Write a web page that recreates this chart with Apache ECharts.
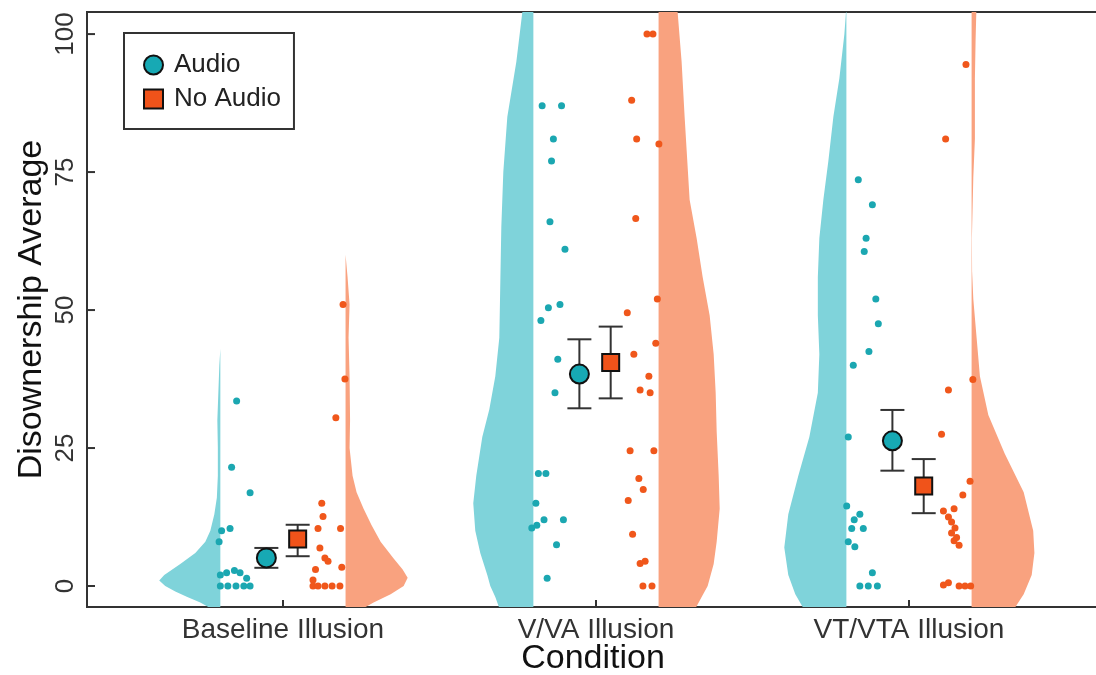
<!DOCTYPE html>
<html>
<head>
<meta charset="utf-8">
<script src="https://cdn.jsdelivr.net/npm/echarts@6/dist/echarts.min.js"></script>
<style>
html,body{margin:0;padding:0;background:#fff;}
#chart{width:1096px;height:675px;}
</style>
</head>
<body>
<div id="chart"></div>
<script>
// ---------- DATA ----------
const categories = ['Baseline Illusion', 'V/VA Illusion', 'VT/VTA Illusion'];
const yTicks = [0, 25, 50, 75, 100];

// means and error bar limits
const audioMean = [5.1, 38.4, 26.3];
const audioLow = [3.3, 32.2, 20.9];
const audioHigh = [6.9, 44.7, 31.9];
const noAudioMean = [8.5, 40.5, 18.1];
const noAudioLow = [5.4, 34.0, 13.2];
const noAudioHigh = [11.1, 47.0, 23.0];

// raw participant values per condition, with their horizontal jitter
const audioValues = [
  [33.5, 21.5, 16.9, 10.4, 10.0, 8.0, 2.0, 2.4, 2.8, 2.4, 1.4, 0, 0, 0, 0, 0],
  [87, 87, 81, 77, 66, 61, 50.4, 51, 48.1, 41.1, 35, 20.4, 20.4, 15, 12, 10.5, 11, 12, 7.5, 1.4],
  [73.6, 69.1, 63.0, 60.6, 52, 47.5, 42.5, 40, 27, 14.5, 13, 12, 10.4, 10.4, 8, 7.1, 2.4, 0, 0, 0]
];
const audioJitter = [
  [-0.148, -0.164, -0.105, -0.169, -0.196, -0.204, -0.200, -0.180, -0.155, -0.137, -0.116, -0.200, -0.176, -0.150, -0.125, -0.105],
  [-0.172, -0.110, -0.136, -0.142, -0.147, -0.099, -0.152, -0.115, -0.176, -0.122, -0.131, -0.184, -0.160, -0.192, -0.166, -0.205, -0.189, -0.104, -0.126, -0.156],
  [-0.162, -0.117, -0.137, -0.143, -0.106, -0.098, -0.128, -0.178, -0.194, -0.199, -0.157, -0.175, -0.146, -0.183, -0.194, -0.173, -0.117, -0.157, -0.130, -0.101]
];
const noAudioValues = [
  [51, 37.5, 30.5, 15.0, 12.6, 10.4, 10.4, 6.9, 5.1, 4.5, 3.4, 3.0, 1.1, 0, 0, 0, 0, 0],
  [100, 100, 88, 81, 80.1, 66.6, 52, 49.5, 44, 42, 38, 35.5, 35, 24.5, 24.5, 19.5, 17.5, 15.5, 9.4, 4.1, 4.5, 0, 0],
  [94.5, 81, 37.4, 35.5, 27.5, 19.0, 16.5, 13.6, 14.0, 12.5, 11.6, 10.5, 9.6, 8.8, 8.2, 7.4, 0.2, 0.6, 0, 0, 0]
];
const noAudioJitter = [
  [0.192, 0.198, 0.169, 0.124, 0.128, 0.112, 0.184, 0.118, 0.134, 0.144, 0.188, 0.104, 0.096, 0.096, 0.112, 0.134, 0.157, 0.182],
  [0.163, 0.182, 0.114, 0.130, 0.201, 0.127, 0.196, 0.100, 0.191, 0.121, 0.169, 0.141, 0.173, 0.109, 0.185, 0.137, 0.151, 0.103, 0.117, 0.141, 0.157, 0.150, 0.179],
  [0.182, 0.117, 0.204, 0.126, 0.104, 0.195, 0.172, 0.110, 0.144, 0.126, 0.136, 0.147, 0.136, 0.152, 0.144, 0.160, 0.110, 0.126, 0.160, 0.179, 0.197]
];

// half-violin density profiles: [value, density]
const audioDensity = [
  [[43,0],[40,1],[35,2],[30,3],[25,2.5],[20,2.5],[16,3.5],[13,6],[10,10],[8,15],[6,25],[4,40],[2,56],[1,61],[0,55],[-1,45],[-2,33],[-3,20],[-4,10]],
  [[110,3],[104,11],[95,17],[85,26],[75,30],[65,32],[55,33],[45,34],[38,38],[32,44],[27,51],[20,57],[15,60],[10,58],[6,53],[2,46],[0,43],[-2,38],[-4,34]],
  [[105,0],[100,2],[92,7],[85,13],[77,18],[70,23],[63,27],[56,28.5],[49,28.5],[42,27],[35,28.5],[27,37],[20,48],[13,58],[7,62],[2,58],[-1.5,51],[-4,43]]
];
const noAudioDensity = [
  [[60,0],[56,2],[51,4],[45,3],[38,4],[30,4.5],[25,4],[20,7],[17,11],[14,18],[11,26],[8,35],[5,48],[3,57],[1.5,62],[0,58],[-1.5,45],[-3,28],[-4,18]],
  [[110,17],[104,19],[95,23],[85,26],[70,31],[63,38],[56,44],[49,51],[42,55],[35,57],[28,58],[20,60],[14,61],[8,58],[4,55],[0,49],[-2,43],[-4,37]],
  [[106,5],[99,4],[92,3.3],[81,3.3],[74,1.7],[63,0.3],[57,0.5],[52,1.7],[45,5],[38,8.3],[31,16.7],[24,33],[17,52],[10,61.5],[6,62.7],[2,60],[-1.5,52],[-4,43]]
];

// ---------- LAYOUT / STYLE ----------
const X_MIN = 0.374, X_MAX = 3.607;
const FLAT = 0.2;            // distance of violin flat edge from category centre
const DENS_SCALE = 0.0032;   // density -> x units
const AUDIO_OFF = -0.053, NOAUDIO_OFF = 0.047;
const C_AUDIO_V = '#7fd3da', C_AUDIO_P = '#1ba7b1', C_AUDIO_M = '#17a9b4';
const C_NO_V = '#f9a27f', C_NO_P = '#f0571b', C_NO_M = '#f0531a';
const FONT = '"Liberation Sans", Arial, sans-serif';

function violin(profiles, side, color, name) {
  return {
    type: 'custom', name: name, clip: true, silent: true, z: 1,
    data: categories.map((c, i) => [i + 1, 0]),
    encode: { x: 0, y: 1 },
    renderItem: function (params, api) {
      const cx = api.value(0);
      const prof = profiles[params.dataIndex];
      const pts = [api.coord([cx + side * FLAT, prof[0][0]])];
      prof.forEach(function (p) { pts.push(api.coord([cx + side * (FLAT + p[1] * DENS_SCALE), p[0]])); });
      pts.push(api.coord([cx + side * FLAT, prof[prof.length - 1][0]]));
      return { type: 'polygon', shape: { points: pts }, style: { fill: color } };
    }
  };
}

function points(values, jitter, color, name) {
  const data = [];
  values.forEach(function (arr, i) {
    arr.forEach(function (v, j) { data.push([i + 1 + jitter[i][j], v]); });
  });
  return { type: 'scatter', name: name, data: data, symbolSize: 7, z: 3, silent: true,
    itemStyle: { color: color, opacity: 1 } };
}

function errorBars(mean, lo, hi, off, name) {
  return {
    type: 'custom', name: name, z: 4, silent: true,
    data: mean.map((m, i) => [i + 1 + off, lo[i], hi[i]]),
    encode: { x: 0, y: [1, 2] },
    renderItem: function (params, api) {
      const a = api.coord([api.value(0), api.value(1)]);
      const b = api.coord([api.value(0), api.value(2)]);
      const w = 12;
      const st = { stroke: '#333', lineWidth: 2 };
      return { type: 'group', children: [
        { type: 'line', shape: { x1: a[0], y1: a[1], x2: b[0], y2: b[1] }, style: st },
        { type: 'line', shape: { x1: a[0] - w, y1: a[1], x2: a[0] + w, y2: a[1] }, style: st },
        { type: 'line', shape: { x1: b[0] - w, y1: b[1], x2: b[0] + w, y2: b[1] }, style: st }
      ]};
    }
  };
}

// small inward tick marks on the y axis, placed through the axis scale
const yTickSeries = {
  type: 'custom', name: 'yTicks', z: 6, silent: true,
  data: yTicks.map(v => [X_MIN, v]),
  encode: { x: 0, y: 1 },
  renderItem: function (params, api) {
    const p = api.coord([api.value(0), api.value(1)]);
    return { type: 'line', shape: { x1: p[0], y1: p[1], x2: p[0] + 8, y2: p[1] }, style: { stroke: '#333', lineWidth: 2 } };
  }
};

const chart = echarts.init(document.getElementById('chart'), null, { renderer: 'canvas' });
chart.setOption({
  animation: false,
  backgroundColor: '#fff',
  textStyle: { fontFamily: FONT },
  grid: { left: 87, top: 12, width: 1012, height: 595, show: true, borderColor: '#333', borderWidth: 2,
    backgroundColor: 'transparent', outerBoundsMode: 'none', containLabel: false },
  legend: {
    orient: 'vertical', left: 124, top: 33,
    padding: [19, 13, 17, 19], itemGap: 8,
    borderColor: '#333', borderWidth: 2,
    itemWidth: 19, itemHeight: 19,
    textStyle: { fontSize: 26, color: '#222', fontFamily: FONT, padding: [0, 0, 0, 6] },
    data: [{ name: 'Audio', icon: 'circle' }, { name: 'No Audio', icon: 'rect' }]
  },
  xAxis: {
    type: 'value', min: X_MIN, max: X_MAX,
    name: 'Condition', nameLocation: 'middle', nameGap: 35, nameMoveOverlap: false,
    nameTextStyle: { fontSize: 34, color: '#111', fontFamily: FONT },
    axisLine: { show: false, onZero: false },
    splitLine: { show: false },
    axisTick: { show: true, inside: true, length: 7, customValues: [1, 2, 3], lineStyle: { color: '#333', width: 2 } },
    axisLabel: { customValues: [1, 2, 3], fontSize: 28, color: '#333', margin: 9,
      formatter: function (v) { return categories[Math.round(v) - 1] || ''; } }
  },
  yAxis: {
    type: 'value', min: -3.8, max: 104,
    name: 'Disownership Average', nameLocation: 'middle', nameGap: 38, nameMoveOverlap: false,
    nameTextStyle: { fontSize: 34, color: '#111', fontFamily: FONT },
    axisLine: { show: true, onZero: false, lineStyle: { color: '#333', width: 2 } },
    splitLine: { show: false },
    axisTick: { show: false },
    axisLabel: { customValues: yTicks, fontSize: 26, color: '#333', rotate: 90, margin: 8 }
  },
  series: [
    violin(audioDensity, -1, C_AUDIO_V, 'audioViolin'),
    violin(noAudioDensity, 1, C_NO_V, 'noAudioViolin'),
    points(audioValues, audioJitter, C_AUDIO_P, 'audioPoints'),
    points(noAudioValues, noAudioJitter, C_NO_P, 'noAudioPoints'),
    errorBars(audioMean, audioLow, audioHigh, AUDIO_OFF, 'audioErr'),
    errorBars(noAudioMean, noAudioLow, noAudioHigh, NOAUDIO_OFF, 'noAudioErr'),
    yTickSeries,
    { type: 'scatter', name: 'Audio', z: 5, symbol: 'circle', symbolSize: 19,
      data: audioMean.map((m, i) => [i + 1 + AUDIO_OFF, m]),
      itemStyle: { color: C_AUDIO_M, borderColor: '#111', borderWidth: 2, opacity: 1 } },
    { type: 'scatter', name: 'No Audio', z: 5, symbol: 'rect', symbolSize: 17,
      data: noAudioMean.map((m, i) => [i + 1 + NOAUDIO_OFF, m]),
      itemStyle: { color: C_NO_M, borderColor: '#111', borderWidth: 2, opacity: 1 } }
  ]
});
</script>
</body>
</html>
